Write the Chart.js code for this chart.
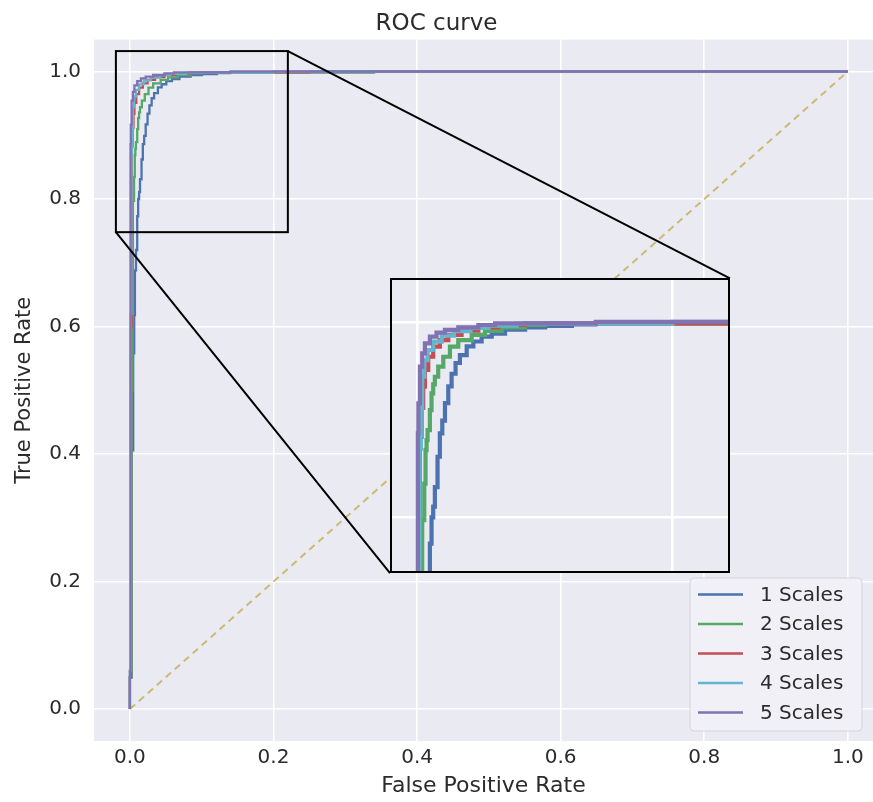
<!DOCTYPE html>
<html>
<head>
<meta charset="utf-8">
<script src="https://cdn.jsdelivr.net/npm/chart.js"></script>
<style>
  html, body { margin: 0; padding: 0; background: #fff; overflow: hidden; }
  #wrap { position: relative; width: 873px; height: 802px; }
  #inset { position: absolute; }
  #inset canvas { display: block; }
</style>
</head>
<body>
<div id="wrap">
  <canvas id="roc" width="873" height="802"></canvas>
  <div id="inset"><canvas id="zoom"></canvas></div>
</div>
<script>
// series names
const seriesNames = ['1 Scales', '2 Scales', '3 Scales', '4 Scales', '5 Scales'];

// ROC points (FPR / TPR)
const fpr1 = [0.0, 0.0, 0.0023, 0.0046, 0.006, 0.007, 0.0085, 0.0102, 0.0115, 0.0128, 0.0141, 0.0162, 0.018, 0.0199, 0.022, 0.0246, 0.0272, 0.0303, 0.0337, 0.039, 0.0442, 0.0507, 0.0586, 0.069, 0.0847, 0.1004, 0.1213, 0.1396, 0.34, 1.0];
const tpr1 = [0.0, 0.05, 0.406, 0.558, 0.618, 0.688, 0.72, 0.773, 0.80, 0.811, 0.831, 0.862, 0.886, 0.899, 0.917, 0.934, 0.947, 0.958, 0.966, 0.975, 0.98, 0.985, 0.988, 0.992, 0.9945, 0.996, 0.9976, 0.9985, 1.0, 1.0];

const fpr2 = [0.0, 0.0, 0.0023, 0.0035, 0.0042, 0.0058, 0.0068, 0.0076, 0.0084, 0.0102, 0.0115, 0.0128, 0.0141, 0.0167, 0.0207, 0.0259, 0.0324, 0.0429, 0.0533, 0.0664, 0.0847, 0.1004, 0.34, 1.0];
const tpr2 = [0.0, 0.05, 0.50, 0.62, 0.797, 0.8345, 0.8687, 0.879, 0.8892, 0.9097, 0.9268, 0.936, 0.9439, 0.9542, 0.9644, 0.9747, 0.9815, 0.9867, 0.9908, 0.9945, 0.9969, 0.9986, 1.0, 1.0];

const fpr3 = [0.0, 0.0, 0.0015, 0.0024, 0.0037, 0.005, 0.0063, 0.0089, 0.0128, 0.018, 0.0246, 0.035, 0.0481, 0.0638, 0.0847, 0.25, 1.0];
const tpr3 = [0.0, 0.05, 0.60, 0.8824, 0.912, 0.9337, 0.9508, 0.9644, 0.9747, 0.9815, 0.9867, 0.9911, 0.9945, 0.9969, 0.9986, 1.0, 1.0];

const fpr4 = [0.0, 0.0, 0.0012, 0.0022, 0.0031, 0.0042, 0.0058, 0.0084, 0.0128, 0.0194, 0.029, 0.042, 0.056, 0.078, 0.20, 1.0];
const tpr4 = [0.0, 0.06, 0.62, 0.87, 0.912, 0.9439, 0.9608, 0.9713, 0.9798, 0.986, 0.9905, 0.9938, 0.9962, 0.9982, 1.0, 1.0];

const fpr5 = [0.0, 0.0, 0.0008, 0.0012, 0.0024, 0.0042, 0.0063, 0.0102, 0.0154, 0.022, 0.0324, 0.0481, 0.0612, 0.14, 1.0];
const tpr5 = [0.0, 0.06, 0.886, 0.9166, 0.9542, 0.9679, 0.9781, 0.985, 0.9891, 0.9918, 0.9945, 0.9969, 0.9986, 1.0, 1.0];

// chance line
const diagX = [0, 1];
const diagY = [0, 1];

const xTicks = [0.0, 0.2, 0.4, 0.6, 0.8, 1.0];
const yTicks = [0.0, 0.2, 0.4, 0.6, 0.8, 1.0];
const zoomXTicks = [0.0, 0.2];
const zoomYTicks = [0.8, 1.0];

// zoomed region in data units: x0, x1, y0, y1
const zoomBox = [-0.0195, 0.22, 0.748, 1.032];
const zoomView = [-0.021, 0.245, 0.743, 1.045];

const FONT = 'DejaVu Sans';
const TEXT = '#2b2b2b';
const BG = '#EAEAF2';
const colors = ['#4C72B0', '#55A868', '#C44E52', '#64B5CD', '#8172B2'];

// inset placement as fraction of the main plot area: left, bottom, width, height
const insetPos = [0.38, 0.2393, 0.4364, 0.4202];

const allFpr = [fpr1, fpr2, fpr3, fpr4, fpr5];
const allTpr = [tpr1, tpr2, tpr3, tpr4, tpr5];

function makeDatasets(width) {
  const sets = allFpr.map((fpr, i) => ({
    label: seriesNames[i],
    data: fpr.map((x, j) => ({ x: x, y: allTpr[i][j] })),
    borderColor: colors[i],
    borderWidth: width,
    showLine: true,
    stepped: 'before',
    pointRadius: 0,
    fill: false,
    order: seriesNames.length - i
  }));
  sets.push({
    label: 'chance',
    data: diagX.map((x, j) => ({ x: x, y: diagY[j] })),
    borderColor: '#CCB974',
    borderWidth: 2,
    borderDash: [7, 5],
    showLine: true,
    pointRadius: 0,
    fill: false,
    order: 10
  });
  return sets;
}

function insetRect(ca) {
  const w = ca.right - ca.left, h = ca.bottom - ca.top;
  const left = ca.left + insetPos[0] * w;
  const right = left + insetPos[2] * w;
  const bottom = ca.bottom - insetPos[1] * h;
  const top = bottom - insetPos[3] * h;
  return { left, right, top, bottom };
}

const bgPlugin = {
  id: 'bg',
  beforeDraw(chart) {
    const { ctx, chartArea: ca } = chart;
    ctx.save();
    ctx.fillStyle = BG;
    ctx.fillRect(ca.left, ca.top, ca.right - ca.left, ca.bottom - ca.top);
    ctx.restore();
  }
};

const markPlugin = {
  id: 'mark',
  afterDatasetsDraw(chart) {
    const { ctx, chartArea: ca, scales } = chart;
    const x0 = scales.x.getPixelForValue(zoomBox[0]);
    const x1 = scales.x.getPixelForValue(zoomBox[1]);
    const y0 = scales.y.getPixelForValue(zoomBox[2]);
    const y1 = scales.y.getPixelForValue(zoomBox[3]);
    const r = insetRect(ca);
    ctx.save();
    ctx.strokeStyle = '#000';
    ctx.lineWidth = 2;
    ctx.strokeRect(x0, y1, x1 - x0, y0 - y1);
    ctx.beginPath();
    ctx.moveTo(x0, y0);
    ctx.lineTo(r.left, r.bottom);
    ctx.moveTo(x1, y1);
    ctx.lineTo(r.right, r.top);
    ctx.stroke();
    ctx.restore();
  },
  afterDraw(chart) {
    // legend box, lower right
    const { ctx, chartArea: ca } = chart;
    const right = ca.right - 11, bottom = ca.bottom - 10;
    const w = 172, h = 153;
    const left = right - w, top = bottom - h;
    ctx.save();
    ctx.beginPath();
    ctx.roundRect(left, top, w, h, 4);
    ctx.fillStyle = 'rgba(240,240,246,0.92)';
    ctx.fill();
    ctx.strokeStyle = '#d4d4dc';
    ctx.lineWidth = 1;
    ctx.stroke();
    ctx.font = '20px "' + FONT + '"';
    ctx.textBaseline = 'middle';
    ctx.fillStyle = TEXT;
    seriesNames.forEach((name, i) => {
      const cy = top + 16.5 + i * 29.5;
      ctx.beginPath();
      ctx.strokeStyle = colors[i];
      ctx.lineWidth = 2.5;
      ctx.moveTo(left + 8, cy);
      ctx.lineTo(left + 53, cy);
      ctx.stroke();
      ctx.fillText(name, left + 70, cy + 1);
    });
    ctx.restore();
  }
};

const main = new Chart(document.getElementById('roc'), {
  type: 'scatter',
  data: { datasets: makeDatasets(2.3) },
  options: {
    responsive: false,
    animation: false,
    devicePixelRatio: 1,
    layout: { padding: 0 },
    plugins: {
      legend: { display: false },
      tooltip: { enabled: false },
      title: {
        display: true,
        text: 'ROC curve',
        color: TEXT,
        font: { family: FONT, size: 23, weight: 'normal' },
        padding: { top: 10, bottom: 2 }
      }
    },
    scales: {
      x: {
        type: 'linear',
        min: -0.05,
        max: 1.035,
        afterBuildTicks: s => { s.ticks = xTicks.map(v => ({ value: v })); },
        afterFit: s => { s.height = 61; },
        grid: { color: '#ffffff', lineWidth: 1.6, drawTicks: false },
        border: { display: false },
        ticks: {
          color: TEXT,
          font: { family: FONT, size: 20 },
          padding: 5,
          maxRotation: 0,
          callback: v => v.toFixed(1)
        },
        title: {
          display: true,
          text: 'False Positive Rate',
          color: TEXT,
          font: { family: FONT, size: 22 },
          padding: { top: 0, bottom: 3 }
        }
      },
      y: {
        type: 'linear',
        min: -0.05,
        max: 1.05,
        afterBuildTicks: s => { s.ticks = yTicks.map(v => ({ value: v })); },
        afterFit: s => { s.width = 94; },
        grid: { color: '#ffffff', lineWidth: 1.6, drawTicks: false },
        border: { display: false },
        ticks: {
          color: TEXT,
          font: { family: FONT, size: 20 },
          padding: 13,
          callback: v => v.toFixed(1)
        },
        title: {
          display: true,
          text: 'True Positive Rate',
          color: TEXT,
          font: { family: FONT, size: 21 },
          padding: { top: 12, bottom: 0 }
        }
      }
    }
  },
  plugins: [bgPlugin, markPlugin]
});

// inset chart on top of the main plot
const r = insetRect(main.chartArea);
const box = document.getElementById('inset');
box.style.left = r.left + 'px';
box.style.top = r.top + 'px';
const zc = document.getElementById('zoom');
zc.width = Math.round(r.right - r.left);
zc.height = Math.round(r.bottom - r.top);

const framePlugin = {
  id: 'frame',
  afterDraw(chart) {
    const { ctx, width, height } = chart;
    ctx.save();
    ctx.strokeStyle = '#000';
    ctx.lineWidth = 2;
    ctx.strokeRect(1, 1, width - 2, height - 2);
    ctx.restore();
  }
};

new Chart(zc, {
  type: 'scatter',
  data: { datasets: makeDatasets(4.2) },
  options: {
    responsive: false,
    animation: false,
    devicePixelRatio: 1,
    layout: { padding: 0 },
    plugins: { legend: { display: false }, tooltip: { enabled: false } },
    scales: {
      x: {
        type: 'linear',
        min: zoomView[0],
        max: zoomView[1],
        afterBuildTicks: s => { s.ticks = zoomXTicks.map(v => ({ value: v })); },
        afterFit: s => { s.height = 0; },
        grid: { color: '#ffffff', lineWidth: 2.5, drawTicks: false },
        border: { display: false },
        ticks: { display: false }
      },
      y: {
        type: 'linear',
        min: zoomView[2],
        max: zoomView[3],
        afterBuildTicks: s => { s.ticks = zoomYTicks.map(v => ({ value: v })); },
        afterFit: s => { s.width = 0; },
        grid: { color: '#ffffff', lineWidth: 2.5, drawTicks: false },
        border: { display: false },
        ticks: { display: false }
      }
    }
  },
  plugins: [bgPlugin, framePlugin]
});
</script>
</body>
</html>
